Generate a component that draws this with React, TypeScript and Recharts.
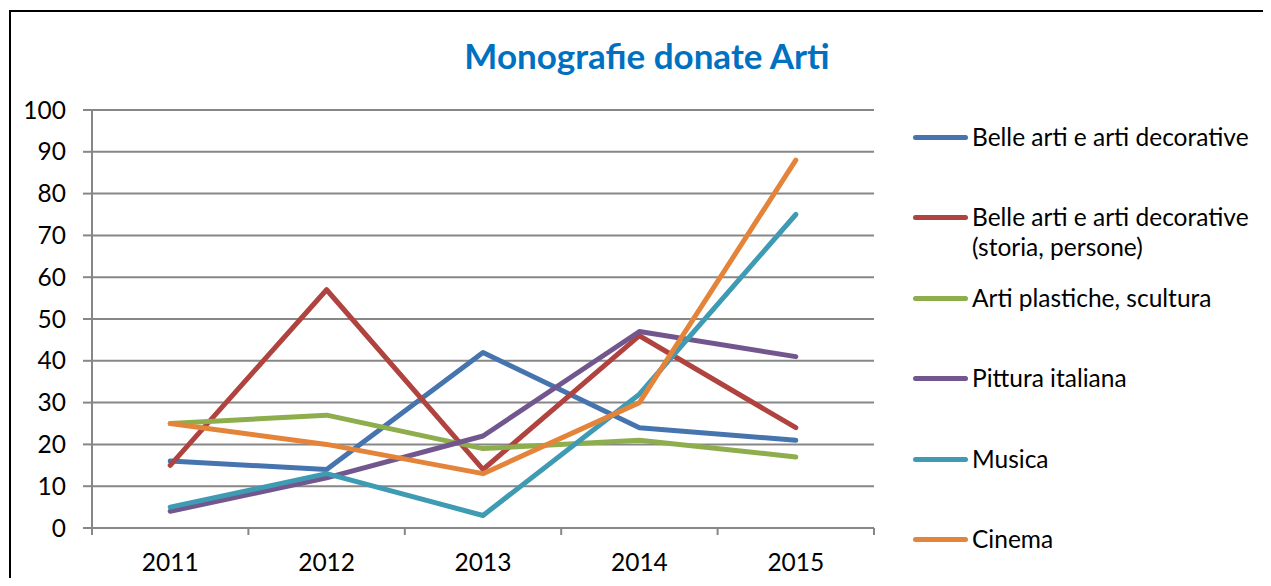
import React from 'react';
import { LineChart, Line, XAxis, YAxis, CartesianGrid } from 'recharts';

const YEARS = ['2011', '2012', '2013', '2014', '2015'];

const BELLE_ARTI = [16, 14, 42, 24, 21];
const BELLE_ARTI_STORIA = [15, 57, 14, 46, 24];
const ARTI_PLASTICHE = [25, 27, 19, 21, 17];
const PITTURA = [4, 12, 22, 47, 41];
const MUSICA = [5, 13, 3, 32, 75];
const CINEMA = [25, 20, 13, 30, 88];

const Y_TICKS = [0, 10, 20, 30, 40, 50, 60, 70, 80, 90, 100];

const SERIES = [
  { key: 'belle', name: 'Belle arti e arti decorative', values: BELLE_ARTI, color: '#4674AE' },
  { key: 'storia', name: 'Belle arti e arti decorative (storia, persone)', values: BELLE_ARTI_STORIA, color: '#B0433F' },
  { key: 'plastiche', name: 'Arti plastiche, scultura', values: ARTI_PLASTICHE, color: '#8EAD4C' },
  { key: 'pittura', name: 'Pittura italiana', values: PITTURA, color: '#72578F' },
  { key: 'musica', name: 'Musica', values: MUSICA, color: '#3F9BB3' },
  { key: 'cinema', name: 'Cinema', values: CINEMA, color: '#E3843A' },
];

// x runs over category slots: point i sits at i + 0.5, boundaries at integers
const data = YEARS.map((year, i) => {
  const row: Record<string, number | string> = { x: i + 0.5, year };
  SERIES.forEach((s) => {
    row[s.key] = s.values[i];
  });
  return row;
});

const X_TICKS: number[] = [];
for (let i = 0; i <= YEARS.length * 2; i++) X_TICKS.push(i / 2);

const AXIS_GRAY = '#878787';
const FONT = 'Lato, "Open Sans", sans-serif';
const TEXT_SIZE = 24.5;

function XTick(props: any) {
  const { x, y, payload } = props;
  const v = payload.value as number;
  if (Number.isInteger(v)) {
    return <line x1={x} x2={x} y1={y} y2={y + 7} stroke={AXIS_GRAY} strokeWidth={2} />;
  }
  return (
    <text x={x} y={y + 43} textAnchor="middle" fontSize={TEXT_SIZE} fill="#000" fontFamily={FONT}>
      {YEARS[Math.floor(v)]}
    </text>
  );
}

export default function App() {
  return (
    <div style={{ position: 'relative', width: 1255, height: 570, fontFamily: FONT }}>
      <div
        style={{
          position: 'absolute',
          left: 1,
          top: 2,
          right: 0,
          bottom: 0,
          borderLeft: '2px solid #000',
          borderTop: '2px solid #000',
        }}
      />
      <div
        style={{
          position: 'absolute',
          left: 389,
          width: 500,
          top: 25,
          textAlign: 'center',
          fontSize: 35,
          fontWeight: 700,
          color: '#0070C0',
          lineHeight: '44px',
        }}
      >
        Monografie donate Arti
      </div>

      <div style={{ position: 'absolute', left: 0, top: 0 }}>
        <LineChart width={1255} height={570} data={data} margin={{ top: 102, right: 389, bottom: 0, left: 24 }}>
          <CartesianGrid horizontal vertical={false} stroke={AXIS_GRAY} strokeWidth={2} />
          <XAxis
            dataKey="x"
            type="number"
            domain={[0, YEARS.length]}
            ticks={X_TICKS}
            interval={0}
            tick={<XTick />}
            tickLine={false}
            tickSize={0}
            tickMargin={0}
            axisLine={{ stroke: AXIS_GRAY, strokeWidth: 2 }}
            height={50}
          />
          <YAxis
            type="number"
            domain={[0, 100]}
            ticks={Y_TICKS}
            interval={0}
            width={60}
            tickSize={9}
            tickMargin={17}
            tickLine={{ stroke: AXIS_GRAY, strokeWidth: 2 }}
            axisLine={{ stroke: AXIS_GRAY, strokeWidth: 2 }}
            tick={{ fontSize: TEXT_SIZE, fill: '#000', fontFamily: FONT }}
          />
          {SERIES.map((s) => (
            <Line
              key={s.key}
              type="linear"
              dataKey={s.key}
              name={s.name}
              stroke={s.color}
              strokeWidth={5}
              strokeLinecap="round"
              strokeLinejoin="round"
              dot={false}
              activeDot={false}
              isAnimationActive={false}
            />
          ))}
        </LineChart>
      </div>

      {SERIES.map((s, i) => (
        <div
          key={s.key}
          style={{
            position: 'absolute',
            left: 905,
            top: 114 + i * 80.4,
            display: 'flex',
            alignItems: 'flex-start',
            fontSize: TEXT_SIZE,
            lineHeight: '30px',
            color: '#000',
          }}
        >
          <div
            style={{
              width: 55,
              height: 5,
              marginTop: 13,
              marginRight: 4,
              borderRadius: 3,
              background: s.color,
              flex: 'none',
            }}
          />
          <div style={{ width: 295 }}>{s.name}</div>
        </div>
      ))}
    </div>
  );
}
